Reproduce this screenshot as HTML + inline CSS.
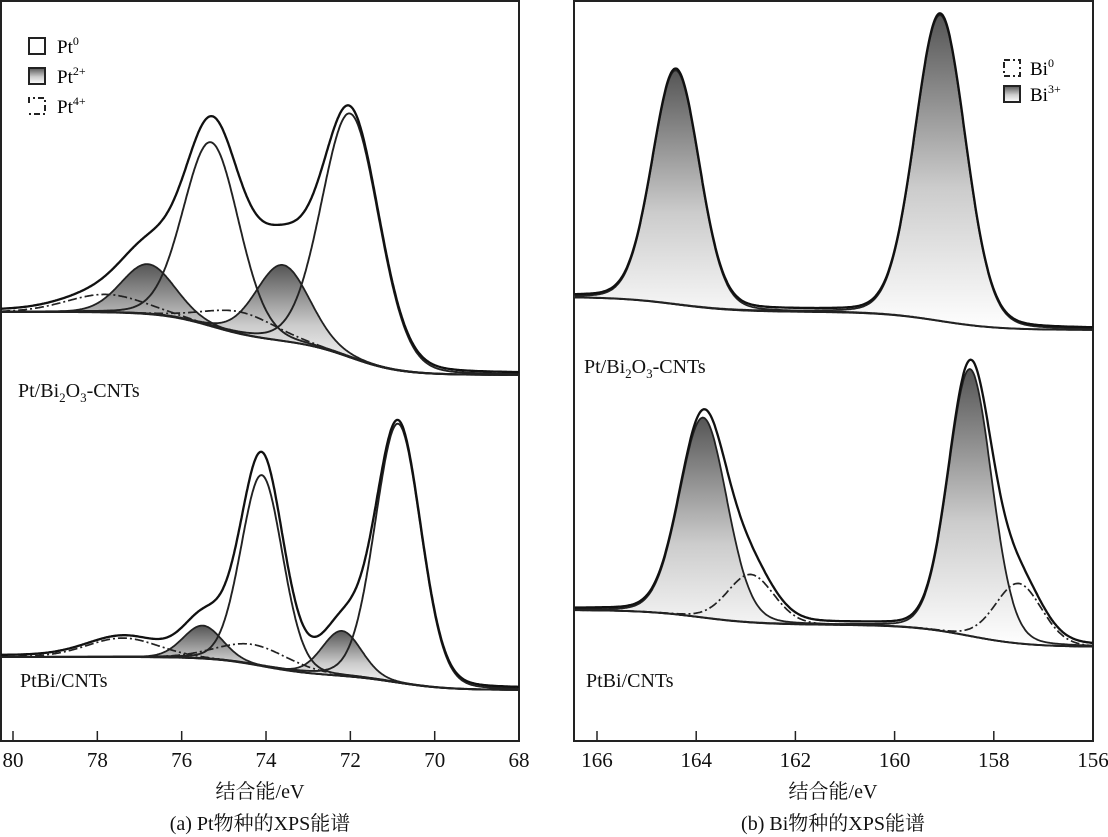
<!DOCTYPE html>
<html><head><meta charset="utf-8"><style>
body{margin:0;background:#fff;}
svg{display:block;font-family:"Liberation Serif","Noto Serif CJK SC",serif;}
</style></head><body>
<svg id="fig" width="1108" height="837" viewBox="0 0 1108 837">
<defs>
<linearGradient id="g" x1="0" y1="0" x2="0" y2="1"><stop offset="0" stop-color="#555"/><stop offset="0.55" stop-color="#ccc"/><stop offset="1" stop-color="#fff"/></linearGradient>
</defs>
<rect x="1" y="1" width="518" height="740" fill="none" stroke="#222" stroke-width="2"/>
<rect x="574" y="1" width="519" height="740" fill="none" stroke="#222" stroke-width="2"/>
<g id="plots"></g>
<g font-size="19">
<rect x="29" y="38" width="16" height="16" fill="#fff" stroke="#222" stroke-width="2"/><text x="57" y="53">Pt<tspan font-size="12" dy="-8">0</tspan></text>
<rect x="29" y="68" width="16" height="16" fill="url(#g)" stroke="#222" stroke-width="2"/><text x="57" y="83">Pt<tspan font-size="12" dy="-8">2+</tspan></text>
<path d="M29 103 v-5 h16 v16 h-16 v-3" fill="none" stroke="#222" stroke-width="2" stroke-dasharray="6,3,2,3"/><text x="57" y="113">Pt<tspan font-size="12" dy="-8">4+</tspan></text>
</g>
<g font-size="19">
<path d="M1004 60 h16 v16 h-16 z" fill="none" stroke="#222" stroke-width="2" stroke-dasharray="6,3,2,3"/><text x="1030" y="75">Bi<tspan font-size="12" dy="-8">0</tspan></text>
<rect x="1004" y="86" width="16" height="16" fill="url(#g)" stroke="#222" stroke-width="2"/><text x="1030" y="101">Bi<tspan font-size="12" dy="-8">3+</tspan></text>
</g>
<g font-size="20" fill="#111">
<text x="18" y="397">Pt/Bi<tspan font-size="13" dy="5">2</tspan><tspan dy="-5">O</tspan><tspan font-size="13" dy="5">3</tspan><tspan dy="-5">-CNTs</tspan></text>
<text x="20" y="687">PtBi/CNTs</text>
<text x="584" y="373">Pt/Bi<tspan font-size="13" dy="5">2</tspan><tspan dy="-5">O</tspan><tspan font-size="13" dy="5">3</tspan><tspan dy="-5">-CNTs</tspan></text>
<text x="586" y="687">PtBi/CNTs</text>
<text x="260" y="798" text-anchor="middle">结合能/eV</text>
<text x="260" y="830" text-anchor="middle">(a) Pt物种的XPS能谱</text>
<text x="833" y="798" text-anchor="middle">结合能/eV</text>
<text x="833" y="830" text-anchor="middle">(b) Bi物种的XPS能谱</text>
</g>
<g id="axes" font-size="21" fill="#111"></g>
</svg>
<script>
// Panel (a) ticks
const ticksA = [80, 78, 76, 74, 72, 70, 68];
const ticksB = [166, 164, 162, 160, 158, 156];
// Pt/Bi2O3-CNTs Pt 4f
const aTopBg = [63, 0];
const aTopPt0 = [[75.3, 184, 1.55], [72.0, 244, 1.6]];
const aTopPt2 = [[76.8, 50, 1.5], [73.6, 76, 1.5]];
const aTopPt4 = [[77.8, 18, 2.2], [74.6, 22, 2.0]];
// PtBi/CNTs Pt 4f
const aBotBg = [33, 0];
const aBotPt0 = [[74.1, 191, 1.16], [70.87, 259, 1.28]];
const aBotPt2 = [[75.5, 33, 1.1], [72.2, 45, 1.1]];
const aBotPt4 = [[77.4, 19, 2.0], [74.3, 20, 2.0]];
// Pt/Bi2O3-CNTs Bi 4f
const bTopBg = [33, 0];
const bTopBi3 = [[164.41, 234, 1.12], [159.08, 306, 1.2]];
const bTopBi0 = [];
// PtBi/CNTs Bi 4f
const bBotBg = [37, 0];
const bBotBi3 = [[163.86, 200, 1.13], [158.48, 267, 1.03]];
const bBotBi0 = [[162.9, 48, 1.1], [157.5, 60, 1.1]];

const NS = "http://www.w3.org/2000/svg";
const plots = document.getElementById('plots');
const axes = document.getElementById('axes');
const xA = e => 13 + (80 - e) * 42.17;
const xB = e => 597 + (166 - e) * 49.6;
function pv(e, p) {
  const d = (e - p[0]) / p[2];
  return p[1] * (0.9 * Math.exp(-4 * Math.LN2 * d * d) + 0.1 / (1 + 4 * d * d));
}
const sig = z => 1 / (1 + Math.exp(-z));
function bgFn(bg, steps) {
  return e => bg[1] + (bg[0] - bg[1]) * steps.reduce((s, st) => s + st[1] * sig((e - st[0]) / 0.6), 0);
}
function mk(tag, attrs, name) {
  const el = document.createElementNS(NS, tag);
  for (const k in attrs) el.setAttribute(k, attrs[k]);
  
  
  plots.appendChild(el);
  return el;
}
function panel(xs, eHi, eLo, base, bg, steps, fillPk, openPk, dashPk, prefix) {
  const B = bgFn(bg, steps);
  const Y = v => base - v;
  const es = [];
  for (let e = eHi; e >= eLo - 1e-9; e -= 0.02) es.push(e);
  const line = f => es.map((e, i) => (i ? 'L' : 'M') + xs(e).toFixed(1) + ' ' + Y(f(e)).toFixed(1)).join(' ');
  fillPk.forEach((p, i) => {
    const top = es.map((e, j) => (j ? 'L' : 'M') + xs(e).toFixed(1) + ' ' + Y(B(e) + pv(e, p)).toFixed(1)).join(' ');
    const bot = es.slice().reverse().map(e => 'L' + xs(e).toFixed(1) + ' ' + Y(B(e)).toFixed(1)).join(' ');
    mk('path', {d: top + ' ' + bot + ' Z', fill: 'url(#g)', stroke: 'none'}, prefix + '-fill-' + i);
  });
  dashPk.forEach((p, i) => mk('path', {d: line(e => B(e) + pv(e, p)), fill: 'none', stroke: '#222', 'stroke-width': 1.7, 'stroke-dasharray': '9,3,2,3'}, prefix + '-dash-peak-' + i));
  fillPk.forEach((p, i) => mk('path', {d: line(e => B(e) + pv(e, p)), fill: 'none', stroke: '#222', 'stroke-width': 1.8}, prefix + '-peak-' + i));
  openPk.forEach((p, i) => mk('path', {d: line(e => B(e) + pv(e, p)), fill: 'none', stroke: '#222', 'stroke-width': 1.9}, prefix + '-open-peak-' + i));
  mk('path', {d: line(B), fill: 'none', stroke: '#222', 'stroke-width': 1.9}, prefix + '-background');
  const all = fillPk.concat(openPk, dashPk);
  mk('path', {d: line(e => B(e) + all.reduce((s, p) => s + pv(e, p), 0) + 1.5), fill: 'none', stroke: '#111', 'stroke-width': 2.3}, prefix + '-envelope');
}
panel(xA, 80.28, 68, 375, aTopBg, [[75.3, 0.45], [72.0, 0.55]], aTopPt2, aTopPt0, aTopPt4, 'pt-bi2o3');
panel(xA, 80.28, 68, 690, aBotBg, [[74.1, 0.55], [70.9, 0.45]], aBotPt2, aBotPt0, aBotPt4, 'ptbi-pt');
panel(xB, 166.45, 156, 330, bTopBg, [[164.4, 0.45], [159.1, 0.55]], bTopBi3, [], bTopBi0, 'pt-bi2o3-bi');
panel(xB, 166.45, 156, 647, bBotBg, [[163.9, 0.4], [158.5, 0.6]], bBotBi3, [], bBotBi0, 'ptbi-bi');

function ticks(arr, xs, prefix) {
  arr.forEach(t => {
    const x = xs(t);
    const l = document.createElementNS(NS, 'line');
    l.setAttribute('x1', x); l.setAttribute('x2', x); l.setAttribute('y1', 741); l.setAttribute('y2', 731);
    l.setAttribute('stroke', '#222'); l.setAttribute('stroke-width', 1.5);
    
    
    axes.appendChild(l);
    const tx = document.createElementNS(NS, 'text');
    tx.setAttribute('x', x); tx.setAttribute('y', 767); tx.setAttribute('text-anchor', 'middle');
    tx.textContent = t;
    
    
    axes.appendChild(tx);
  });
}
ticks(ticksA, xA, 'x-axis-a');
ticks(ticksB, xB, 'x-axis-b');
</script>
</body></html>
